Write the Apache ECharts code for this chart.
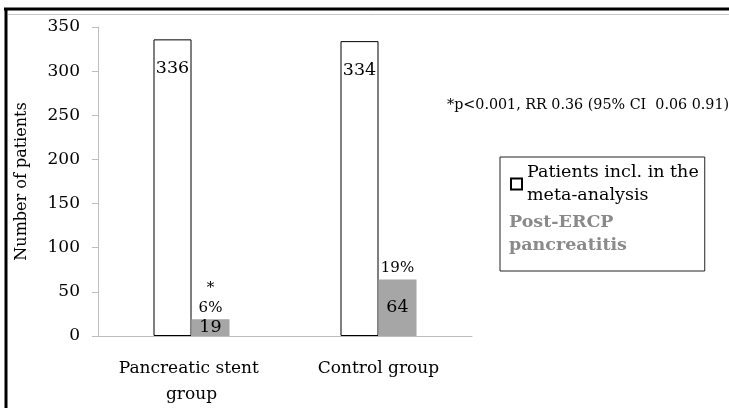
<!DOCTYPE html>
<html>
<head>
<meta charset="utf-8">
<script src="https://cdn.jsdelivr.net/npm/echarts@6/dist/echarts.min.js"></script>
<style>
  html, body { margin: 0; padding: 0; background: #fff; }
  #chart { width: 729px; height: 408px; }
</style>
</head>
<body>
<div id="chart"></div>
<script>
// data
var categories = ['Pancreatic stent group', 'Control group']
var includedPatients = [336, 334]
var pepPatients = [19, 64]
var pepPercent = ['*\n6%', '19%']
var yTicks = { min: 0, max: 350, interval: 50 }
var note = '*p<0.001, RR 0.36 (95% CI  0.06 0.91)'

var serif = 'DejaVu Serif'

var chart = echarts.init(document.getElementById('chart'))
chart.setOption({
  backgroundColor: '#fff',
  animation: false,
  textStyle: { fontFamily: serif, color: '#000' },
  grid: { left: 98, right: 257, top: 27, bottom: 72, containLabel: false },
  legend: {
    orient: 'vertical',
    left: 500,
    top: 157,
    padding: [4, 6, 14, 9],
    itemGap: 4,
    itemWidth: 11,
    itemHeight: 11,
    borderColor: '#222',
    borderWidth: 1,
    textStyle: { fontFamily: serif, fontSize: 17.5, lineHeight: 23, color: '#000' },
    data: [
      { name: 'Patients incl. in the\nmeta-analysis', icon: 'rect' },
      {
        name: 'Post-ERCP\npancreatitis',
        icon: 'none',
        textStyle: { color: '#8a8a8a', fontWeight: 'bold', padding: [0, 0, 0, -18] }
      }
    ]
  },
  xAxis: {
    type: 'category',
    data: categories,
    axisLine: { lineStyle: { color: '#bdbdbd', width: 1 } },
    axisTick: { show: false },
    axisLabel: {
      interval: 0,
      margin: 20,
      fontSize: 17,
      lineHeight: 26,
      color: '#000',
      width: 170,
      overflow: 'break'
    }
  },
  yAxis: {
    type: 'value',
    min: yTicks.min,
    max: yTicks.max,
    interval: yTicks.interval,
    name: 'Number of patients',
    nameLocation: 'middle',
    nameGap: 68,
    nameTextStyle: { fontSize: 16, color: '#000' },
    axisLine: { show: true, lineStyle: { color: '#bdbdbd' } },
    axisTick: { show: true, length: 6, lineStyle: { color: '#bdbdbd' } },
    splitLine: { show: false },
    axisLabel: { margin: 18, fontSize: 17, color: '#000' }
  },
  series: [
    {
      name: 'Patients incl. in the\nmeta-analysis',
      type: 'bar',
      barWidth: 38,
      barGap: '0%',
      data: includedPatients,
      itemStyle: { color: '#fff', borderColor: '#000', borderWidth: 1 },
      label: {
        show: true,
        position: 'insideTop',
        distance: 20,
        fontSize: 17.5,
        color: '#000'
      }
    },
    {
      name: 'Post-ERCP\npancreatitis',
      type: 'bar',
      stack: 'pep',
      barWidth: 38,
      data: pepPatients,
      itemStyle: { color: '#a6a6a6' },
      label: { show: true, position: 'inside', fontSize: 17.5, color: '#000' }
    },
    {
      name: 'pct',
      type: 'bar',
      stack: 'pep',
      barWidth: 38,
      data: pepPatients.map(function () { return 0 }),
      itemStyle: { color: 'transparent' },
      silent: true,
      label: {
        show: true,
        position: 'top',
        distance: 1,
        fontSize: 15,
        lineHeight: 20,
        color: '#000',
        formatter: function (p) { return pepPercent[p.dataIndex] }
      }
    }
  ],
  graphic: [
    { type: 'line', shape: { x1: 4, y1: 9, x2: 729, y2: 9 }, style: { stroke: '#000', lineWidth: 3 } },
    { type: 'line', shape: { x1: 6, y1: 8, x2: 6, y2: 408 }, style: { stroke: '#000', lineWidth: 3 } },
    { type: 'line', shape: { x1: 8, y1: 14.5, x2: 729, y2: 14.5 }, style: { stroke: '#c6c6c6', lineWidth: 1 } },
    {
      type: 'text',
      left: 447,
      top: 98,
      style: { text: note, fontFamily: serif, fontSize: 14.3, fill: '#000' }
    }
  ]
})
</script>
</body>
</html>
